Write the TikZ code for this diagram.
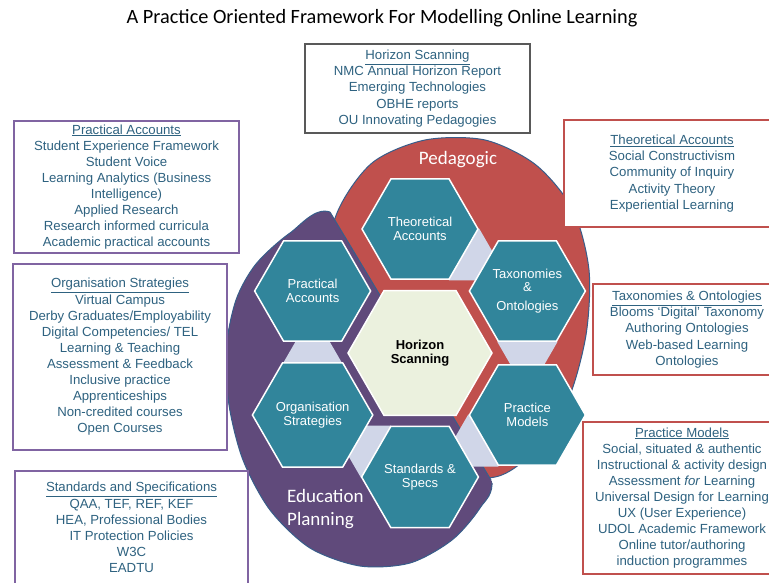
\documentclass[tikz,border=0pt]{standalone}
\usepackage{fontspec}
\setmainfont{Liberation Sans}
\newfontfamily\calibri{Carlito}
\definecolor{HexTeal}   {RGB}{49,133,155}
\definecolor{HubCream}  {RGB}{235,241,222}
\definecolor{LinkLilac} {RGB}{208,214,232}
\definecolor{PedRed}    {RGB}{192,80,77}
\definecolor{PlanPurple}{RGB}{96,74,123}
\definecolor{RimBlue}   {RGB}{56,93,138}
\definecolor{BoxText}   {RGB}{46,98,128}
\definecolor{BoxPurple} {RGB}{128,100,162}
\definecolor{BoxGrey}   {RGB}{89,89,89}
\usetikzlibrary{shapes.geometric,calc}
\tikzset{
  hexbig/.style={regular polygon,regular polygon sides=6,minimum size=116pt,
    inner sep=0pt,fill=HexTeal,draw=white,line width=1.5pt,text=white,
    align=center,font=\fontsize{13}{13.5}\selectfont},
  hubhex/.style={hexbig,minimum size=144pt,fill=HubCream,text=black,
    font=\bfseries\fontsize{13}{14.3}\selectfont},
  linkhex/.style={regular polygon,regular polygon sides=6,minimum size=60pt,
    inner sep=0pt,fill=LinkLilac},
  infobox/.style={draw,line width=1.5pt,fill=white,inner sep=0pt,align=center,
    text=BoxText,font=\fontsize{13.2}{16.1}\selectfont},
  zonelabel/.style={text=white,inner sep=0pt,font=\calibri\fontsize{19}{23}\selectfont},
  zonerim/.style={draw=RimBlue,line width=1pt}
}
\begin{document}
\begin{tikzpicture}[x=1pt,y=-1pt]
  \path[use as bounding box,clip] (0,0) rectangle (769,582);
  \fill[white] (0,0) rectangle (769,582);
  %% Title
  \node[font=\calibri\fontsize{20.3}{22}\selectfont] (title) at (382,18)
    {A Practice Oriented Framework For Modelling Online Learning};
  %% Two halves, split along one chord
  \coordinate (splittop) at (330,212);
  \coordinate (splitbot) at (491,480);
  \begin{scope}
    \clip (169,-56) -- (652,748) -- (900,748) -- (900,-56) -- cycle;
    \filldraw[zonerim,fill=PedRed] plot[smooth cycle] coordinates {
      (337,213) (372,163) (425,140) (485,140) (536,165) (573,210) (589,270)
      (586,335) (568,400) (535,450) (495,477) (430,470) (360,380) (325,280)};
  \end{scope}
  \begin{scope}
    \clip (169,-56) -- (652,748) -- (-100,748) -- (-100,-56) -- cycle;
    \filldraw[zonerim,fill=PlanPurple] plot[smooth cycle] coordinates {
      (330,212) (290,233) (256,264) (236,300) (226,350) (229,405) (243,460)
      (270,510) (310,548) (360,566) (410,563) (452,540) (480,508) (492,478)
      (470,380) (400,270)};
  \end{scope}
  \draw[RimBlue,line width=1pt] (splittop) -- (splitbot);
  \node[zonelabel] (pedlabel) at (458,160) {Pedagogic};
  \node[zonelabel,align=left,anchor=north west] (planlabel) at (287,489)
    {Education\\Planning};
  %% Hexagon cluster
  \coordinate (hubc) at (420,353);
  \foreach \a in {0,60,...,240}
    \node[linkhex] (link\a) at ($(hubc)+(\a-60:107.4)+(\a-150:11)$) {};
  \foreach \a/\n/\t in {
      270/theo/{Theoretical\\Accounts},
      330/taxo/{Taxonomies\\\&\\[5pt]Ontologies},
       30/prac/{Practice\\Models},
       90/stds/{Standards \&\\Specs},
      150/orgs/{Organisation\\Strategies},
      210/acct/{Practical\\Accounts}}
    \node[hexbig] (\n) at ($(hubc)+(\a:124)$) {\t};
  \node[hubhex] (hub) at (hubc) {Horizon\\Scanning};
  %% Left boxes
  \node[infobox,draw=BoxPurple,minimum width=225pt,minimum height=132pt]
    (acctbox) at (126.5,187)
    {\underline{Practical Accounts}\\Student Experience Framework\\Student Voice\\
     Learning Analytics (Business\\Intelligence)\\Applied Research\\
     Research informed curricula\\Academic practical accounts};
  \node[infobox,draw=BoxPurple,minimum width=214pt,minimum height=186pt]
    (orgsbox) at (120,357)
    {\underline{Organisation Strategies}\\Virtual Campus\\Derby Graduates/Employability\\
     Digital Competencies/ TEL\\Learning \& Teaching\\Assessment \& Feedback\\
     Inclusive practice\\Apprenticeships\\Non-credited courses\\Open Courses};
  \node[infobox,draw=BoxPurple,minimum width=233pt,minimum height=113pt]
    (stdsbox) at (131.5,527.5)
    {\underline{Standards and Specifications}\\QAA, TEF, REF, KEF\\
     HEA, Professional Bodies\\IT Protection Policies\\W3C\\EADTU};
  %% Top box
  \node[infobox,draw=BoxGrey,minimum width=225pt,minimum height=89pt]
    (hubbox) at (417.5,88.5)
    {\underline{Horizon Scanning}\\NMC Annual Horizon Report\\Emerging Technologies\\
     OBHE reports\\OU Innovating Pedagogies};
  %% Right boxes
  \node[infobox,draw=PedRed,minimum width=216pt,minimum height=107pt]
    (theobox) at (672,173.5)
    {\underline{Theoretical Accounts}\\Social Constructivism\\Community of Inquiry\\
     Activity Theory\\Experiential Learning};
  \node[infobox,draw=PedRed,minimum width=188pt,minimum height=91pt]
    (taxobox) at (687,329.5)
    {\underline{Taxonomies \& Ontologies}\\Blooms `Digital' Taxonomy\\
     Authoring Ontologies\\Web-based Learning\\Ontologies};
  \node[infobox,draw=PedRed,minimum width=198pt,minimum height=152pt]
    (pracbox) at (682,498)
    {\underline{Practice Models}\\Social, situated \& authentic\\
     Instructional \& activity design\\Assessment \textit{for} Learning\\
     Universal Design for Learning\\UX (User Experience)\\UDOL Academic Framework\\
     Online tutor/authoring\\induction programmes};
\end{tikzpicture}
\end{document}
